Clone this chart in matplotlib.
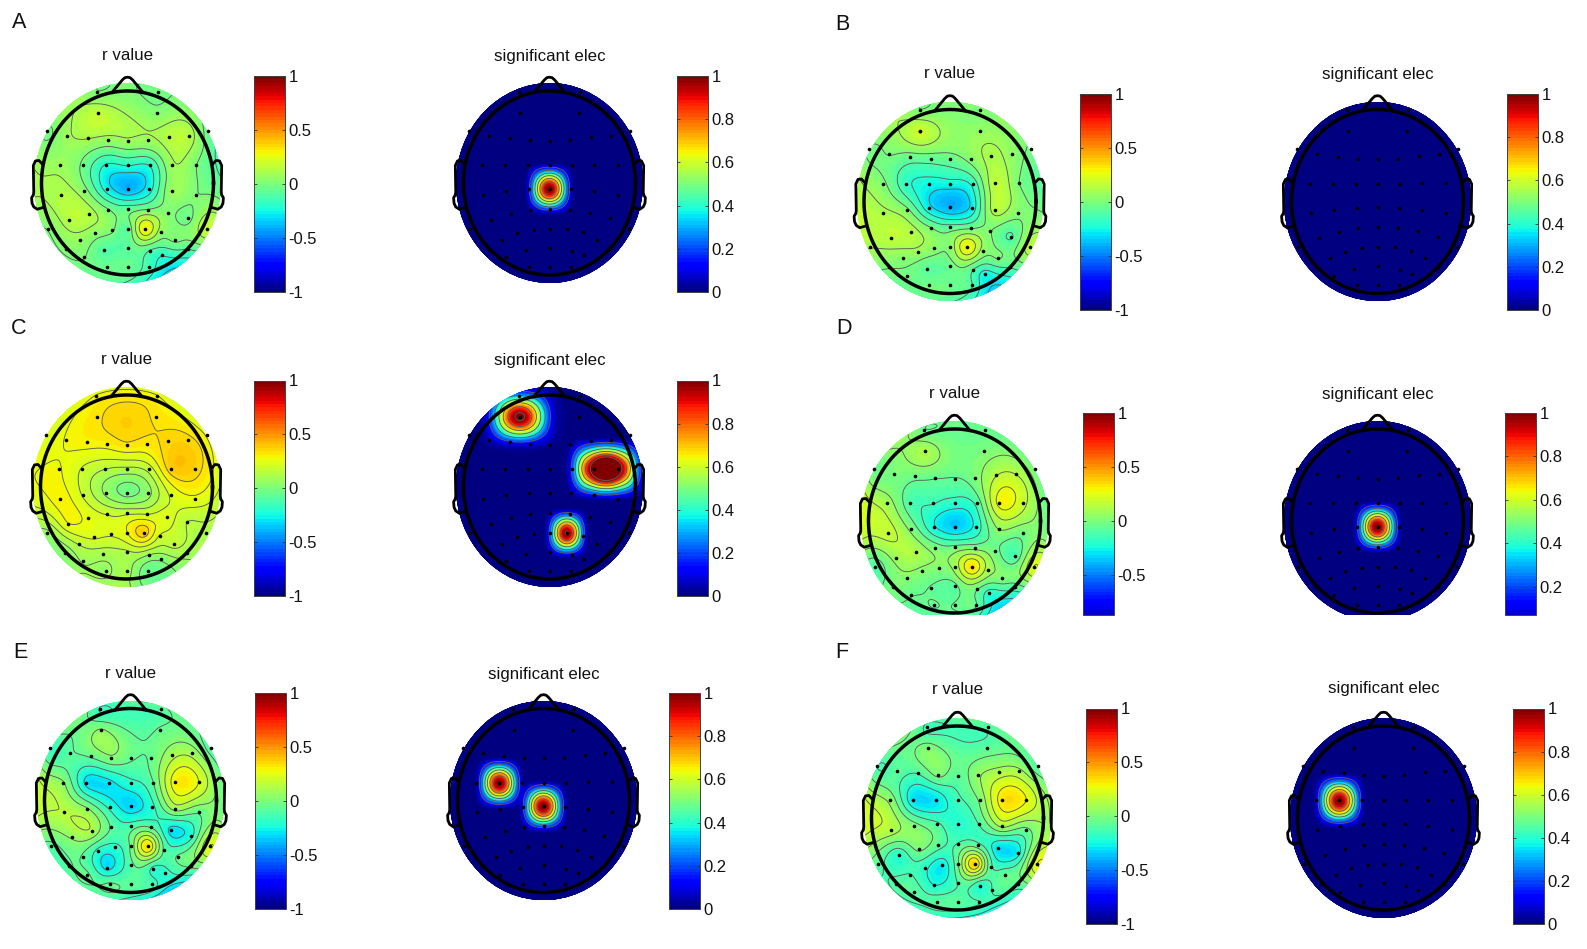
import numpy as np
import matplotlib
matplotlib.use('Agg')
import matplotlib.pyplot as plt
from matplotlib.patches import Ellipse

plt.rcParams['font.family'] = ['Liberation Sans', 'DejaVu Sans']
plt.rcParams['axes.unicode_minus'] = False

W, H = 1587, 949

# electrode positions, head ring has radius 1, rows from front to back
ELEC_X = [-.349, .349,
          -.345, .345,
          -.938, .938,
          -.705, -.465, -.225, 0, .24, .477, .717,
          -.783, -.512, -.248, 0, .264, .519, .798,
          -.775, -.504, -.24, 0, .252, .519, .791,
          -.686, -.453, -.221, 0, .24, .469, .709,
          -.93, -.55, -.376, -.186, 0, .202, .388, .554, .93,
          -.713, -.504, -.271, 0, .267, .403, .698,
          -.24, 0, .252]
ELEC_Y = [.993, .993,
          .765, .765,
          .567, .567,
          .516, .484, .466, .458, .466, .495, .516,
          .191, .191, .191, .191, .191, .199, .199,
          -.13, -.09, -.069, -.061, -.069, -.09, -.126,
          -.40, -.336, -.289, -.282, -.289, -.325, -.383,
          -.498, -.617, -.545, -.509, -.495, -.498, -.534, -.617, -.495,
          -.715, -.805, -.733, -.704, -.74, -.787, -.715,
          -.913, -.913, -.913]

# r value at each electrode, same order as above
R_A = [0, -.02,
       .17, .02,
       -.02, -.05,
       .08, .1, .06, .08, .08, .14, .14,
       .08, -.03, -.22, -.2, -.2, .08, 0,
       .13, .04, -.25, -.4, -.25, .08, 0,
       .14, .14, 0, -.05, 0, .02, -.03,
       0, .06, .04, .02, -.08, .3, .05, .02, .18,
       .02, 0, -.1, -.08, -.12, -.2, -.1,
       -.04, -.04, -.15]
R_B = [0, 0,
       .2, .06,
       -.02, -.02,
       0, -.05, -.06, -.05, .03, .12, .05,
       .02, -.18, -.25, -.25, -.18, .16, 0,
       .12, .02, -.28, -.4, -.28, .14, .02,
       .15, .14, 0, -.06, -.02, 0, -.12,
       .1, .03, .07, .04, .03, .3, .05, 0, .15,
       0, -.02, -.08, -.05, -.1, -.25, -.1,
       -.02, -.03, -.1]
R_C = [.28, .28,
       .33, .33,
       .22, .26,
       .28, .3, .3, .33, .32, .36, .36,
       .28, .2, .14, .12, .17, .38, .37,
       .3, .2, .06, -.02, .05, .22, .26,
       .27, .26, .2, .19, .2, .24, .14,
       .05, .15, .22, .22, .27, .38, .2, .17, .12,
       .03, .08, .1, .13, .07, .02, .1,
       .06, .1, -.05]
R_D = [-.05, -.05,
       .12, 0,
       -.03, -.02,
       0, -.03, -.05, -.06, 0, .14, .14,
       .1, -.12, -.15, -.2, -.12, .28, .18,
       .18, .02, -.24, -.35, -.22, .05, -.02,
       .08, .12, 0, -.03, 0, -.02, -.12,
       -.12, .02, .02, .02, .08, .35, .1, .02, .25,
       0, -.05, -.06, -.08, -.05, -.2, -.1,
       -.05, -.05, -.05]
R_E = [-.18, -.1,
       .05, -.05,
       -.15, -.12,
       -.08, -.05, .02, -.05, -.05, .1, .1,
       .05, -.3, -.3, -.2, -.07, .3, .24,
       .14, .05, -.2, -.33, -.2, .08, -.05,
       .05, .12, -.08, -.12, -.08, -.3, -.2,
       -.1, -.08, -.2, -.2, -.05, .35, -.08, -.05, .25,
       -.08, -.05, -.3, -.1, -.2, -.2, -.05,
       -.05, -.08, -.12]
R_F = [-.15, -.1,
       .02, -.08,
       -.12, -.1,
       -.08, -.12, 0, -.08, .06, .12, .1,
       .05, -.3, -.3, -.15, 0, .33, .28,
       .13, .02, -.1, -.2, -.12, .1, -.05,
       -.2, 0, -.08, -.12, -.1, -.3, -.25,
       -.08, -.12, -.2, -.28, -.05, .38, -.1, -.05, .28,
       -.1, -.08, -.22, -.12, -.22, -.12, -.08,
       -.08, -.08, -.12]
R_VALUES = [R_A, R_B, R_C, R_D, R_E, R_F]

# significant electrodes: index into ELEC_X, height and spread of each blob
SIG_IDX = [[23], [], [2, 2, 18, 19, 39], [23], [14, 23], [14]]
SIG_VAL = [[1], [], [.92, .1, 1, 1, 1], [1], [1, 1], [1]]
SIG_WX = [[.31], [], [.46, .72, .36, .36, .28], [.31], [.31, .31], [.33]]
SIG_WY = [[.31], [], [.36, .52, .37, .37, .3], [.31], [.31, .31], [.33]]

PANEL_LABELS = ['A', 'B', 'C', 'D', 'E', 'F']
LABEL_XY = [(19, 23), (842, 24), (19, 329), (844, 329), (20, 653), (842, 653)]

# layout in pixels of the full image
R_CX = [127.5, 950, 126.5, 954.5, 130.5, 957.5]
SIG_CX = [549.5, 1377.5, 549.5, 1377.5, 543.5, 1383.5]
HEAD_CY = [183, 201.5, 487, 521, 800.5, 818]
TITLE_Y = [56, 74, 360, 394, 674, 689]
R_CB_X = [254, 1080, 254, 1083, 255, 1086]
SIG_CB_X = [677, 1507, 677, 1505, 669, 1513]
CB_TOP = [76, 94, 380.5, 413, 693, 708.5]
CB_BOTTOM = [292, 310, 596, 615, 909, 924]
CB_W = 31
AX_BOTTOM = [None, None, None, 615, None, None]
R_CB_MIN = [-1, -1, -1, -.87, -1, -1]
SIG_CB_MIN = [0, 0, 0, .07, 0, 0]

RX, RY = 86.0, 92.0   # head ring radii in pixels
DISC = 1.085
CMAP = plt.get_cmap('jet', 64)


def add_px_axes(fig, left, top, right, bottom):
    return fig.add_axes([left / W, 1 - bottom / H, (right - left) / W, (bottom - top) / H])


def biharmonic(xi, yi, vals, gx, gy):
    """Interpolacion tipo griddata v4, como hace topoplot."""
    xi, yi, vals = np.array(xi), np.array(yi), np.array(vals, dtype=float)

    def green(d):
        out = np.zeros_like(d)
        ok = d > 0
        out[ok] = d[ok] ** 2 * (np.log(d[ok]) - 1)
        return out

    d = np.hypot(xi[:, None] - xi[None, :], yi[:, None] - yi[None, :])
    w = np.linalg.solve(green(d), vals)
    z = np.zeros_like(gx)
    for x0, y0, w0 in zip(xi, yi, w):
        z += w0 * green(np.hypot(gx - x0, gy - y0))
    return z


def sig_field(idx, vals, wx, wy, gx, gy):
    z = np.zeros_like(gx)
    for i, v, a, b in zip(idx, vals, wx, wy):
        tx = np.clip((gx - ELEC_X[i]) / a, -1, 1)
        ty = np.clip((gy - ELEC_Y[i]) / b, -1, 1)
        z += v * (np.cos(tx * np.pi / 2) * np.cos(ty * np.pi / 2)) ** 2
    return np.clip(z, 0, 1.15)


def draw_head(ax):
    t = np.linspace(0, 2 * np.pi, 300)
    ax.plot(np.cos(t), np.sin(t), color='k', lw=2.5, solid_joinstyle='round')
    ax.plot([-.18, -.06, -.03, 0, .03, .06, .18],
            [.985, 1.12, 1.145, 1.15, 1.145, 1.12, .985],
            color='k', lw=2, solid_joinstyle='round')
    ear_x = np.array([.995, 1.03, 1.07, 1.095, 1.09, 1.095, 1.115, 1.11, 1.09, 1.05, .995])
    ear_y = np.array([.21, .245, .24, .19, -.1, -.13, -.16, -.22, -.26, -.285, -.27])
    ax.plot(ear_x, ear_y, color='k', lw=2, solid_joinstyle='round')
    ax.plot(-ear_x, ear_y, color='k', lw=2, solid_joinstyle='round')
    ax.plot(ELEC_X, ELEC_Y, ls='none', marker='o', ms=2.6, mfc='k', mec='k', mew=0)


def draw_topo(fig, cx, cy, bottom_px, field_fn, vmin, vmax):
    half = 125
    bottom = cy + half if bottom_px is None else bottom_px
    ax = add_px_axes(fig, cx - half, cy - half, cx + half, bottom)
    ax.set_xlim(-half / RX, half / RX)
    ax.set_ylim(-(bottom - cy) / RY, half / RY)
    ax.axis('off')

    gx, gy = np.meshgrid(np.linspace(-1.12, 1.12, 225), np.linspace(-1.12, 1.12, 225))
    z = field_fn(gx, gy)
    z_in = np.ma.masked_where(np.hypot(gx, gy) > DISC + .02, z)

    clip = Ellipse((0, 0), 2 * DISC, 2 * DISC, transform=ax.transData, fc='none', ec='none')
    ax.add_patch(clip)
    mesh = ax.pcolormesh(gx, gy, z_in, cmap=CMAP, vmin=vmin, vmax=vmax, shading='gouraud')
    mesh.set_clip_path(clip)
    if z_in.max() - z_in.min() > 1e-6:
        levels = np.linspace(z_in.min(), z_in.max(), 8)[1:-1]
        cs = ax.contour(gx, gy, z_in, levels=levels, colors='#5e5e5e', linewidths=.65,
                        linestyles='solid')
        cs.set_clip_path(clip)
    draw_head(ax)
    return mesh


def draw_colorbar(fig, mesh, left, top, bottom, ticks, low):
    cax = add_px_axes(fig, left, top, left + CB_W, bottom)
    cb = fig.colorbar(mesh, cax=cax, ticks=ticks)
    cb.ax.set_yticklabels(['%g' % t for t in ticks])
    cb.outline.set_linewidth(.7)
    cb.outline.set_edgecolor('#404040')
    cax.set_ylim(low, 1)
    cax.tick_params(axis='y', direction='in', length=2.5, width=.6, left=True, right=True,
                    labelsize=12, pad=2.5, color='#303030', labelcolor='#111111')


def main():
    fig = plt.figure(figsize=(W / 100, H / 100), dpi=100)
    fig.patch.set_facecolor('white')

    for i, label in enumerate(PANEL_LABELS):
        fig.text(LABEL_XY[i][0] / W, 1 - LABEL_XY[i][1] / H, label, fontsize=15.5,
                 ha='center', va='center', color='#111111')

        # mapa de r
        r_fn = lambda gx, gy, v=R_VALUES[i]: biharmonic(ELEC_X, ELEC_Y, v, gx, gy)
        mesh = draw_topo(fig, R_CX[i], HEAD_CY[i], AX_BOTTOM[i], r_fn, -1, 1)
        fig.text(R_CX[i] / W, 1 - TITLE_Y[i] / H, 'r value', fontsize=12.2,
                 ha='center', va='center', color='#111111')
        r_ticks = [t for t in [-1, -.5, 0, .5, 1] if t >= R_CB_MIN[i]]
        draw_colorbar(fig, mesh, R_CB_X[i], CB_TOP[i], CB_BOTTOM[i], r_ticks, R_CB_MIN[i])

        # electrodos significativos
        sig_fn = lambda gx, gy, k=i: sig_field(SIG_IDX[k], SIG_VAL[k], SIG_WX[k], SIG_WY[k], gx, gy)
        mesh = draw_topo(fig, SIG_CX[i], HEAD_CY[i], AX_BOTTOM[i], sig_fn, 0, 1)
        fig.text(SIG_CX[i] / W, 1 - TITLE_Y[i] / H, 'significant elec', fontsize=12.2,
                 ha='center', va='center', color='#111111')
        sig_ticks = [t for t in [0, .2, .4, .6, .8, 1] if t >= SIG_CB_MIN[i]]
        draw_colorbar(fig, mesh, SIG_CB_X[i], CB_TOP[i], CB_BOTTOM[i], sig_ticks, SIG_CB_MIN[i])

    fig.savefig('out.png', dpi=100)


if __name__ == '__main__':
    main()
